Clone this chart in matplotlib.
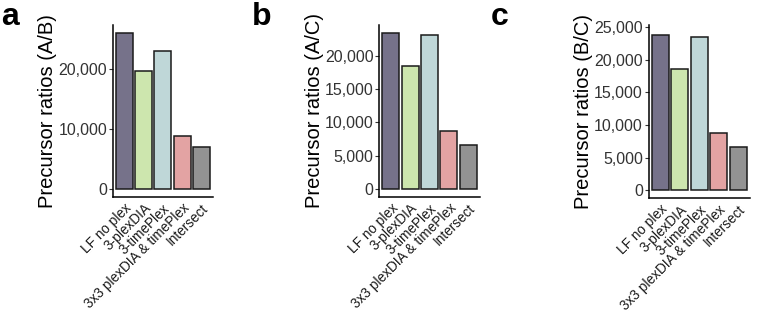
import matplotlib.pyplot as plt
from matplotlib.ticker import FuncFormatter

plt.rcParams['font.family'] = ['Liberation Sans', 'DejaVu Sans']

categories = ["LF no plex", "3-plexDIA", "3-timePlex", "3x3 plexDIA & timePlex", "Intersect"]
colors = ["#76728A", "#CDE6AE", "#BFD7D8", "#E3A3A3", "#939393"]

ratios_ab = [25900, 19550, 23000, 8880, 6930]
ratios_ac = [23350, 18500, 23100, 8750, 6600]
ratios_bc = [23700, 18650, 23400, 8800, 6640]

panels = [
    ("a", "Precursor ratios (A/B)", ratios_ab, [0, 10000, 20000], None),
    ("b", "Precursor ratios (A/C)", ratios_ac, [0, 5000, 10000, 15000, 20000], None),
    ("c", "Precursor ratios (B/C)", ratios_bc, [0, 5000, 10000, 15000, 20000, 25000], 25300),
]
# axes boxes in figure fractions: left, bottom, width, height
boxes = [
    [0.148, 0.371, 0.131, 0.550],
    [0.497, 0.371, 0.132, 0.550],
    [0.850, 0.367, 0.133, 0.553],
]
letter_x = [0.002, 0.330, 0.643]

fig = plt.figure(figsize=(7.63, 3.13), dpi=100)
fmt = FuncFormatter(lambda v, p: f"{int(v):,}")

for (letter, ylabel, vals, ticks, top), box, lx in zip(panels, boxes, letter_x):
    ax = fig.add_axes(box)
    x = range(len(categories))
    ax.bar(x, vals, width=0.88, color=colors, edgecolor="#1a1a1a", linewidth=1.1)
    vmax = max(vals)
    ax.set_ylim(-0.05 * vmax, top if top else vmax * 1.055)
    ax.set_xlim(-0.6, len(categories) - 0.4)
    ax.set_yticks(ticks)
    ax.yaxis.set_major_formatter(fmt)
    ax.set_xticks(list(x))
    ax.set_xticklabels(categories, rotation=45, ha="right", rotation_mode="anchor", fontsize=9.8)
    ax.tick_params(axis="y", labelsize=11.5, colors="#333333", length=3, width=0.8, pad=1)
    ax.tick_params(axis="x", length=0, pad=3, labelcolor="#1a1a1a")
    for s in ["top", "right"]:
        ax.spines[s].set_visible(False)
    for s in ["left", "bottom"]:
        ax.spines[s].set_linewidth(1.1)
    ax.set_ylabel(ylabel, fontsize=14.5, labelpad=1)
    fig.text(lx, 0.995, letter, fontsize=23, fontweight="bold", va="top", ha="left")

fig.savefig("out.png", dpi=100)
